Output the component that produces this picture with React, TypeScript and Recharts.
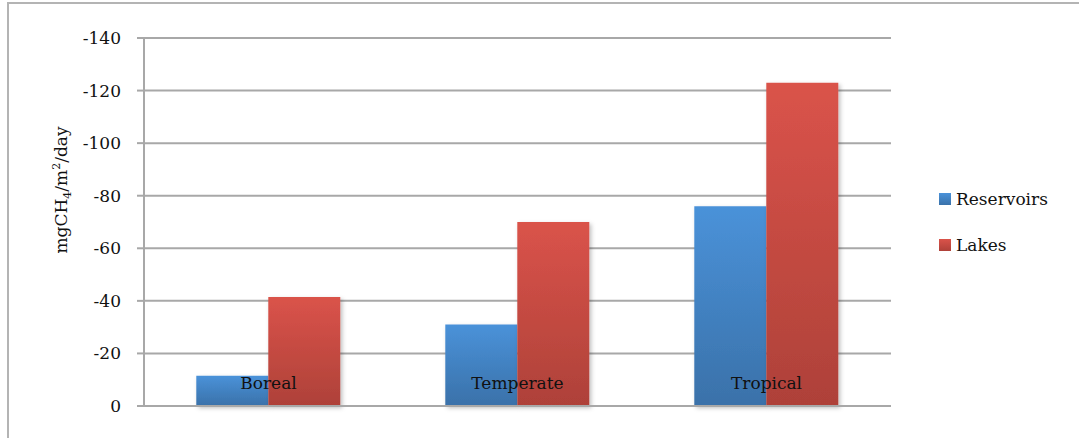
import React from 'react';
import { BarChart, Bar, XAxis, YAxis, CartesianGrid } from 'recharts';

const climateZones = ['Boreal', 'Temperate', 'Tropical'];
const reservoirFlux = [-11.5, -31, -76];
const lakeFlux = [-41.5, -70, -123];
const yTicks = [0, -20, -40, -60, -80, -100, -120, -140];
const zoneEdges = [0, 1, 2, 3];

const seriesInfo = [
  { key: 'reservoirs', name: 'Reservoirs', fill: 'url(#gradBlue)', swatch: 'linear-gradient(#4a92d9, #3a72aa)' },
  { key: 'lakes', name: 'Lakes', fill: 'url(#gradRed)', swatch: 'linear-gradient(#da534a, #af4139)' },
];

const data = climateZones.map((zone, i) => ({
  zone,
  reservoirs: reservoirFlux[i],
  lakes: lakeFlux[i],
}));

const FONT = '"DejaVu Serif", "Liberation Serif", serif';
const GRID = '#a8a8a8';

const ZoneTick = (props: any) => {
  const { x, y, payload } = props;
  return (
    <text x={x} y={y - 17} textAnchor="middle" fontFamily={FONT} fontSize={17} fill="#111">
      {payload.value}
    </text>
  );
};

const UnitLabel = () => (
  <text
    x={0}
    y={0}
    transform="translate(67, 190) rotate(-90)"
    textAnchor="middle"
    fontFamily={FONT}
    fontSize={17}
    fill="#111"
  >
    <tspan>mgCH</tspan>
    <tspan fontSize={11} dy={4}>4</tspan>
    <tspan dy={-4}>/m</tspan>
    <tspan fontSize={11} dy={-7}>2</tspan>
    <tspan dy={7}>/day</tspan>
  </text>
);

const SeriesLegend = () => (
  <div style={{ position: 'absolute', left: 939, top: 187, fontFamily: FONT, fontSize: 17, color: '#111' }}>
    {seriesInfo.map((s, i) => (
      <div key={s.key} style={{ display: 'flex', alignItems: 'center', height: 24, marginBottom: i === 0 ? 22 : 0 }}>
        <span style={{ display: 'inline-block', width: 12, height: 12, marginRight: 5, background: s.swatch }} />
        {s.name}
      </div>
    ))}
  </div>
);

export default function App() {
  return (
    <div style={{ position: 'fixed', left: 0, top: 0, width: 1079, height: 438, background: '#fff', overflow: 'hidden' }}>
      <div
        style={{
          position: 'absolute',
          left: 7,
          top: 2,
          width: 1200,
          height: 600,
          border: '2px solid #b4b4b4',
        }}
      />
      <div style={{ position: 'absolute', left: 0, top: 0 }}>
        <BarChart
          width={1079}
          height={438}
          data={data}
          margin={{ top: 38, right: 188, bottom: 0, left: 0 }}
          barCategoryGap="21%"
          barGap={0}
        >
          <defs>
            <linearGradient id="gradBlue" x1="0" y1="0" x2="0" y2="1">
              <stop offset="0%" stopColor="#4a92d9" />
              <stop offset="100%" stopColor="#3a71a9" />
            </linearGradient>
            <linearGradient id="gradRed" x1="0" y1="0" x2="0" y2="1">
              <stop offset="0%" stopColor="#da534a" />
              <stop offset="100%" stopColor="#ae4139" />
            </linearGradient>
            <filter id="barShadow" x="-10%" y="-10%" width="130%" height="130%">
              <feDropShadow dx="2" dy="2" stdDeviation="2" floodColor="#000" floodOpacity="0.25" />
            </filter>
          </defs>
          <CartesianGrid vertical={false} stroke={GRID} strokeWidth={2} />
          {/* small upward ticks on the boundaries between climate zones */}
          <XAxis
            xAxisId="edges"
            type="number"
            domain={[0, 3]}
            ticks={zoneEdges}
            height={0}
            mirror
            axisLine={false}
            tickFormatter={() => ''}
            tickSize={7}
            tickLine={{ stroke: GRID, strokeWidth: 2 }}
          />
          <XAxis
            xAxisId="cat"
            dataKey="zone"
            height={32}
            tickLine={false}
            tickSize={0}
            tickMargin={0}
            axisLine={{ stroke: GRID, strokeWidth: 2 }}
            tick={<ZoneTick />}
          />
          <YAxis
            width={144}
            domain={[-140, 0]}
            ticks={yTicks}
            reversed
            tickSize={7}
            tickMargin={16}
            axisLine={{ stroke: GRID, strokeWidth: 2 }}
            tickLine={{ stroke: GRID, strokeWidth: 2 }}
            tick={{ fontFamily: FONT, fontSize: 17, fill: '#111' }}
            label={<UnitLabel />}
          />
          {seriesInfo.map((s) => (
            <Bar
              key={s.key}
              xAxisId="cat"
              dataKey={s.key}
              name={s.name}
              fill={s.fill}
              filter="url(#barShadow)"
              isAnimationActive={false}
            />
          ))}
        </BarChart>
      </div>
      <SeriesLegend />
    </div>
  );
}
